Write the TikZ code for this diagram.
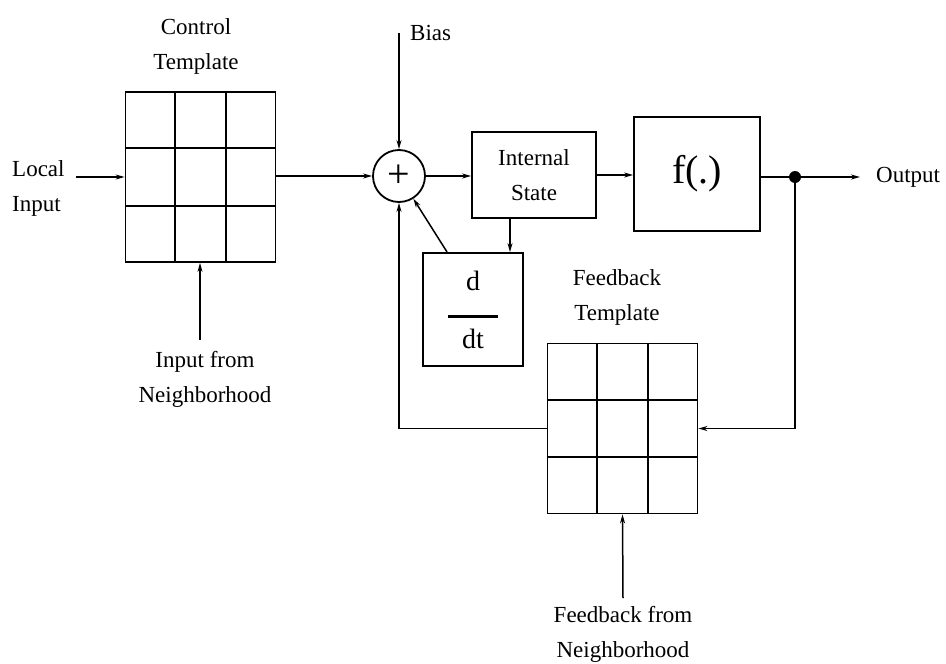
\documentclass[tikz,border=0pt]{standalone}
\usepackage{fontspec}
\setmainfont{Liberation Serif}
\usetikzlibrary{arrows.meta,calc}

\tikzset{
  lbl/.style={font=\fontsize{23}{35}\selectfont, align=center, inner sep=0pt},
  cell/.style={draw, line width=1.8pt, minimum width=150pt, minimum height=170pt, inner sep=0pt},
  blk/.style={draw, line width=1.8pt, inner sep=0pt},
  conn/.style={line width=1.5pt, -{Stealth[length=9pt,width=5pt]}},
  wire/.style={line width=1.5pt}
}

\begin{document}
\begin{tikzpicture}[x=1pt,y=-1pt]
  \useasboundingbox (0,0) rectangle (946,664);

  % templates
  \node[cell] (ctrl) at (200.5,177) {};
  \node[cell] (fb) at (622.5,428.5) {};
  \foreach \g in {ctrl,fb} {
    \foreach \f in {1,2} {
      \draw[line width=1.8pt] ($(\g.north west)!\f/3!(\g.north east)$) -- ($(\g.south west)!\f/3!(\g.south east)$);
      \draw[line width=1.8pt] ($(\g.north west)!\f/3!(\g.south west)$) -- ($(\g.north east)!\f/3!(\g.south east)$);
    }
  }

  % blocks
  \node[blk, circle, minimum size=52pt] (sum) at (399,176) {};
  \node[font=\fontsize{40}{40}\selectfont] (plus) at (sum) {+};
  \node[blk, minimum width=124pt, minimum height=86pt, lbl] (state) at (534,175) {Internal\\State};
  \node[blk, minimum width=126pt, minimum height=114pt, font=\fontsize{40}{40}\selectfont] (func) at (697,174) {f(.)};
  \node[blk, minimum width=100pt, minimum height=113pt, align=center, font=\fontsize{28}{32}\selectfont] (deriv) at (473,309.5) {d\\[-4pt]\rule{50pt}{3pt}\\[-2pt]dt};
  \fill (795,177) circle (6pt) coordinate (dot);

  % labels
  \node[lbl, align=left, anchor=west] (local) at (12,188) {Local\\Input};
  \node[lbl] (ctrllbl) at (196,46) {Control\\Template};
  \node[lbl, anchor=west] (bias) at (410,33) {Bias};
  \node[lbl] (nblbl) at (205,379) {Input from\\Neighborhood};
  \node[lbl, anchor=west] (out) at (876,177) {Output};
  \node[lbl] (fblbl) at (617,297) {Feedback\\Template};
  \node[lbl] (fbnlbl) at (623,634) {Feedback from\\Neighborhood};

  \coordinate (lin) at (76,177);
  \coordinate (biasin) at (399,33);
  \coordinate (nbin) at (200,340);
  \coordinate (outend) at (860,177);
  \coordinate (fbin) at (623,598);

  % connectors
  \draw[conn] (lin) -- (ctrl.west |- lin);
  \draw[conn] (ctrl.east |- sum) -- (sum);
  \draw[conn] (biasin) -- (sum);
  \draw[conn] (nbin) -- (nbin |- ctrl.south);
  \draw[conn] (sum) -- (sum -| state.west);
  \draw[conn] (state) -- (state -| func.west);
  \draw[wire] (func.east |- dot) -- (dot);
  \draw[conn] (dot) -- (outend);
  \draw[conn] ([xshift=-24pt]state.south) -- ([xshift=-24pt]state.south |- deriv.north);
  \draw[conn] ([xshift=25pt]deriv.north west) -- (sum);
  \draw[conn] (dot) |- (fb.east);
  \draw[conn] (fb.west) -| (sum.south);
  \draw[conn] (fbin) -- (fb.south);
\end{tikzpicture}
\end{document}
